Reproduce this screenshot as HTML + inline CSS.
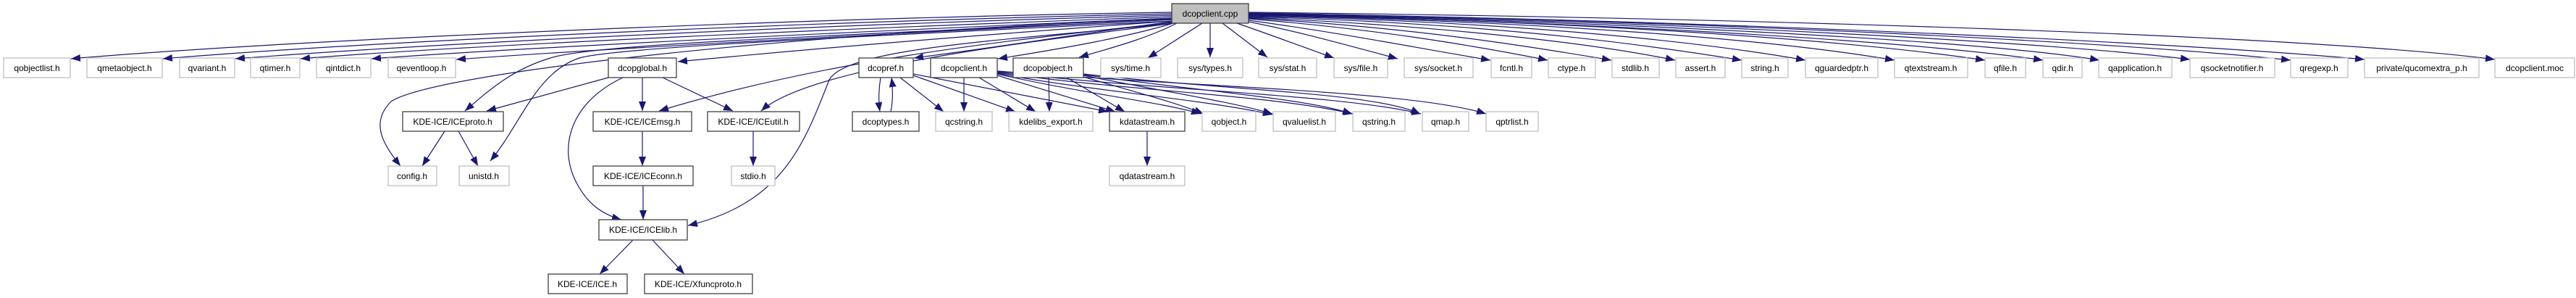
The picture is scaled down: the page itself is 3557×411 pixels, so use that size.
<!DOCTYPE html>
<html><head><meta charset="utf-8"><style>
html,body{margin:0;padding:0;background:#fff;}
svg{display:block;}
text{font-family:"Liberation Sans",sans-serif;font-size:12px;fill:#000;text-anchor:middle;}
.g{fill:#fff;stroke:#bfbfbf;stroke-width:1.3;}
.d{fill:#fff;stroke:#404040;stroke-width:1.3;}
path.e{fill:none;stroke:#191970;stroke-width:1.2;}
</style></head><body>
<svg width="3557" height="411" viewBox="0 0 3557 411" xmlns="http://www.w3.org/2000/svg">
<defs><marker id="a" markerUnits="userSpaceOnUse" markerWidth="14" markerHeight="12" refX="13" refY="5" orient="auto"><path d="M0,0 L13,5 L0,10 Z" fill="#191970"/></marker></defs>
<g marker-end="url(#a)">
<path class="e" d="M1618,17 C1100,25 400,55 98,81"/>
<path class="e" d="M1618,19 C1100,30 500,58 225,81"/>
<path class="e" d="M1618,21 C1100,35 600,60 325,81"/>
<path class="e" d="M1618,23 C1150,40 650,62 415,81"/>
<path class="e" d="M1618,25 C1150,45 750,64 513,81"/>
<path class="e" d="M1618,27 C1200,48 850,66 630,82"/>
<path class="e" d="M1618,29 C1400,45 1200,60 936,85"/>
<path class="e" d="M1618,30 C1500,45 1400,62 1262,80"/>
<path class="e" d="M1620,32 C1560,50 1480,65 1378,81"/>
<path class="e" d="M1625,32 C1590,50 1550,62 1490,79"/>
<path class="e" d="M1660,32 L1585,80"/>
<path class="e" d="M1671,32 L1671,79"/>
<path class="e" d="M1688,32 L1750,79"/>
<path class="e" d="M1708,32 C1760,50 1800,65 1842,80"/>
<path class="e" d="M1724,30 C1800,45 1870,65 1930,81"/>
<path class="e" d="M1724,28 C1850,45 1950,65 2058,83"/>
<path class="e" d="M1724,26 C1900,40 2030,62 2137,83"/>
<path class="e" d="M1724,25 C1950,38 2100,62 2225,83"/>
<path class="e" d="M1724,24 C2000,36 2200,60 2313,83"/>
<path class="e" d="M1724,23 C2050,32 2250,58 2405,83"/>
<path class="e" d="M1724,22 C2100,30 2350,58 2493,83"/>
<path class="e" d="M1724,21 C2150,30 2450,55 2616,83"/>
<path class="e" d="M1724,20 C2200,30 2550,55 2741,83"/>
<path class="e" d="M1724,20 C2250,32 2650,58 2821,83"/>
<path class="e" d="M1724,19 C2300,32 2750,58 2899,83"/>
<path class="e" d="M1724,19 C2350,30 2850,60 3024,82"/>
<path class="e" d="M1724,18 C2400,30 2950,60 3163,83"/>
<path class="e" d="M1724,18 C2450,30 3050,62 3265,82"/>
<path class="e" d="M1724,17 C2450,25 3200,50 3445,82"/>
<path class="e" d="M1618,26 C1100,45 600,100 540,140 C510,170 530,200 553,229"/>
<path class="e" d="M1618,27 C1150,50 820,60 760,80 C710,95 680,120 642,153"/>
<path class="e" d="M1618,29 C1200,50 850,65 800,80 C740,100 720,170 677,222"/>
<path class="e" d="M1618,31 C1400,55 1150,80 910,153"/>
<path class="e" d="M1620,32 C1450,55 1120,90 1051,153"/>
<path class="e" d="M1622,32 C1400,55 1170,65 1145,110 C1110,200 1080,280 950,311"/>
<path class="e" d="M840,107 L672,153"/>
<path class="e" d="M887,107 L887,153"/>
<path class="e" d="M915,107 L1012,153"/>
<path class="e" d="M860,107 C790,140 770,200 795,250 C810,280 830,295 858,303"/>
<path class="e" d="M614,181 L583,229"/>
<path class="e" d="M633,181 L660,229"/>
<path class="e" d="M887,181 L887,229"/>
<path class="e" d="M1040,181 L1040,229"/>
<path class="e" d="M888,256 L888,303"/>
<path class="e" d="M874,331 L828,378"/>
<path class="e" d="M901,331 L945,378"/>
<path class="e" d="M1216,107 C1213,125 1213,140 1215,154"/>
<path class="e" d="M1230,154 C1233,140 1233,122 1231,107"/>
<path class="e" d="M1243,107 L1303,154"/>
<path class="e" d="M1261,104 L1402,154"/>
<path class="e" d="M1261,102 L1530,154"/>
<path class="e" d="M1331,107 L1331,154"/>
<path class="e" d="M1352,107 L1430,154"/>
<path class="e" d="M1377,104 L1540,154"/>
<path class="e" d="M1377,102 C1500,130 1600,140 1658,157"/>
<path class="e" d="M1377,101 C1500,125 1650,135 1757,158"/>
<path class="e" d="M1377,100 C1550,125 1750,130 1868,157"/>
<path class="e" d="M1377,99 C1600,125 1850,130 1962,157"/>
<path class="e" d="M1377,98 C1650,120 1950,125 2052,157"/>
<path class="e" d="M1448,107 L1449,154"/>
<path class="e" d="M1473,107 L1553,154"/>
<path class="e" d="M1496,106 C1560,125 1620,140 1662,157"/>
<path class="e" d="M1496,104 C1600,125 1700,140 1757,157"/>
<path class="e" d="M1496,103 C1650,125 1800,135 1867,157"/>
<path class="e" d="M1496,102 C1700,125 1900,128 1961,157"/>
<path class="e" d="M1584,181 L1584,229"/>
</g>
<rect x="1618" y="5" width="106" height="27" fill="#bfbfbf" stroke="#404040" stroke-width="1.3"/><text x="1671" y="23">dcopclient.cpp</text>
<g>
<rect class="g" x="5" y="80" width="92" height="27"/><text x="51" y="98">qobjectlist.h</text>
<rect class="g" x="120" y="80" width="104" height="27"/><text x="172" y="98">qmetaobject.h</text>
<rect class="g" x="248" y="80" width="76" height="27"/><text x="286" y="98">qvariant.h</text>
<rect class="g" x="346" y="80" width="68" height="27"/><text x="380" y="98">qtimer.h</text>
<rect class="g" x="437" y="80" width="75" height="27"/><text x="474" y="98">qintdict.h</text>
<rect class="g" x="536" y="80" width="93" height="27"/><text x="582" y="98">qeventloop.h</text>
<rect class="d" x="840" y="80" width="94" height="27"/><text x="887" y="98">dcopglobal.h</text>
<rect class="d" x="1186" y="80" width="75" height="27"/><text x="1223" y="98">dcopref.h</text>
<rect class="d" x="1285" y="80" width="92" height="27"/><text x="1331" y="98">dcopclient.h</text>
<rect class="d" x="1399" y="80" width="97" height="27"/><text x="1447" y="98">dcopobject.h</text>
<rect class="g" x="1520" y="80" width="83" height="27"/><text x="1561" y="98">sys/time.h</text>
<rect class="g" x="1626" y="80" width="90" height="27"/><text x="1671" y="98">sys/types.h</text>
<rect class="g" x="1738" y="80" width="80" height="27"/><text x="1778" y="98">sys/stat.h</text>
<rect class="g" x="1842" y="80" width="74" height="27"/><text x="1879" y="98">sys/file.h</text>
<rect class="g" x="1939" y="80" width="95" height="27"/><text x="1986" y="98">sys/socket.h</text>
<rect class="g" x="2059" y="80" width="56" height="27"/><text x="2087" y="98">fcntl.h</text>
<rect class="g" x="2138" y="80" width="65" height="27"/><text x="2170" y="98">ctype.h</text>
<rect class="g" x="2226" y="80" width="65" height="27"/><text x="2258" y="98">stdlib.h</text>
<rect class="g" x="2314" y="80" width="68" height="27"/><text x="2348" y="98">assert.h</text>
<rect class="g" x="2405" y="80" width="64" height="27"/><text x="2437" y="98">string.h</text>
<rect class="g" x="2493" y="80" width="100" height="27"/><text x="2543" y="98">qguardedptr.h</text>
<rect class="g" x="2616" y="80" width="101" height="27"/><text x="2666" y="98">qtextstream.h</text>
<rect class="g" x="2741" y="80" width="56" height="27"/><text x="2769" y="98">qfile.h</text>
<rect class="g" x="2821" y="80" width="54" height="27"/><text x="2848" y="98">qdir.h</text>
<rect class="g" x="2898" y="80" width="101" height="27"/><text x="2948" y="98">qapplication.h</text>
<rect class="g" x="3024" y="80" width="117" height="27"/><text x="3082" y="98">qsocketnotifier.h</text>
<rect class="g" x="3163" y="80" width="79" height="27"/><text x="3202" y="98">qregexp.h</text>
<rect class="g" x="3265" y="80" width="158" height="27"/><text x="3344" y="98">private/qucomextra_p.h</text>
<rect class="g" x="3445" y="80" width="110" height="27"/><text x="3500" y="98">dcopclient.moc</text>
<rect class="d" x="556" y="154" width="139" height="27"/><text x="625" y="172">KDE-ICE/ICEproto.h</text>
<rect class="d" x="819" y="154" width="136" height="27"/><text x="887" y="172">KDE-ICE/ICEmsg.h</text>
<rect class="d" x="977" y="154" width="127" height="27"/><text x="1040" y="172">KDE-ICE/ICEutil.h</text>
<rect class="d" x="1177" y="154" width="92" height="27"/><text x="1223" y="172">dcoptypes.h</text>
<rect class="g" x="1292" y="154" width="78" height="27"/><text x="1331" y="172">qcstring.h</text>
<rect class="g" x="1393" y="154" width="116" height="27"/><text x="1451" y="172">kdelibs_export.h</text>
<rect class="d" x="1532" y="154" width="104" height="27"/><text x="1584" y="172">kdatastream.h</text>
<rect class="g" x="1660" y="154" width="74" height="27"/><text x="1697" y="172">qobject.h</text>
<rect class="g" x="1758" y="154" width="86" height="27"/><text x="1801" y="172">qvaluelist.h</text>
<rect class="g" x="1868" y="154" width="72" height="27"/><text x="1904" y="172">qstring.h</text>
<rect class="g" x="1964" y="154" width="64" height="27"/><text x="1996" y="172">qmap.h</text>
<rect class="g" x="2052" y="154" width="72" height="27"/><text x="2088" y="172">qptrlist.h</text>
<rect class="g" x="536" y="229" width="67" height="27"/><text x="569" y="247">config.h</text>
<rect class="g" x="634" y="229" width="69" height="27"/><text x="668" y="247">unistd.h</text>
<rect class="d" x="819" y="229" width="138" height="27"/><text x="888" y="247">KDE-ICE/ICEconn.h</text>
<rect class="g" x="1010" y="229" width="60" height="27"/><text x="1040" y="247">stdio.h</text>
<rect class="g" x="1532" y="229" width="104" height="27"/><text x="1584" y="247">qdatastream.h</text>
<rect class="d" x="827" y="303" width="122" height="28"/><text x="888" y="321">KDE-ICE/ICElib.h</text>
<rect class="d" x="757" y="378" width="109" height="27"/><text x="811" y="396">KDE-ICE/ICE.h</text>
<rect class="d" x="890" y="378" width="149" height="27"/><text x="964" y="396">KDE-ICE/Xfuncproto.h</text>
</g>
</svg>
</body></html>
